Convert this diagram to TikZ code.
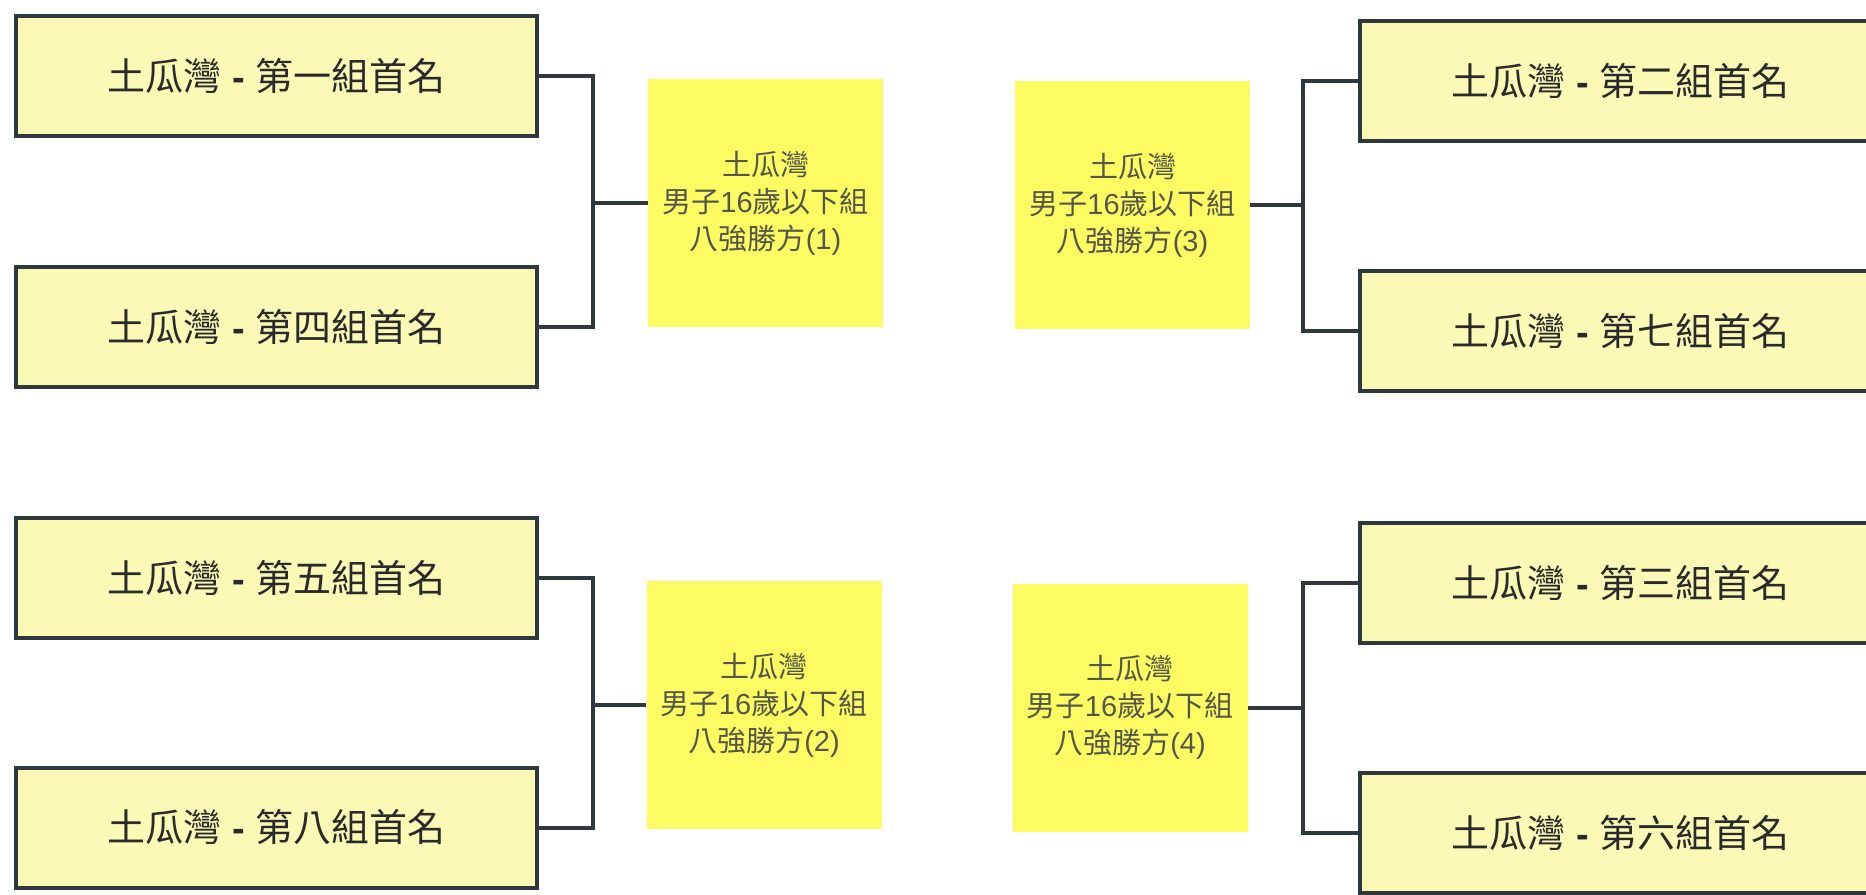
\documentclass[tikz,border=0pt]{standalone}
\usepackage{fontspec}
\setmainfont{Liberation Sans}
\newfontfamily\cjk{Noto Sans CJK TC}
\definecolor{linec}{HTML}{2E383D}
\definecolor{teamfill}{HTML}{FAFAB6}
\definecolor{winfill}{HTML}{FCFC62}
\definecolor{teamtext}{HTML}{2A2A2A}
\definecolor{wintext}{HTML}{55554A}
\newcommand{\teamname}[1]{{\cjk 土瓜灣}\ \textbf{-}\ {\cjk 第#1組首名}}
\newcommand{\winname}[1]{{\cjk 土瓜灣}\\{\cjk 男子}16{\cjk 歲以下組}\\{\cjk 八強勝方}(#1)}
\tikzset{
  team/.style={draw=linec, line width=2pt, fill=teamfill, minimum width=260.5pt,
    minimum height=60pt, inner sep=0pt, text=teamtext,
    font=\fontsize{19}{23}\selectfont},
  winner/.style={fill=winfill, minimum width=117.5pt, minimum height=124pt,
    inner sep=0pt, align=center, text=wintext,
    font=\fontsize{14.5}{18.5}\selectfont},
  conn/.style={draw=linec, line width=2pt}
}
\begin{document}
\begin{tikzpicture}[x=0.5pt,y=-0.5pt]
\useasboundingbox (0,0) rectangle (1866,894);
% left column teams
\node[team] (b1) at (276.5,76) {\teamname{一}};
\node[team] (b4) at (276.5,327) {\teamname{四}};
\node[team] (b5) at (276.5,577.5) {\teamname{五}};
\node[team] (b8) at (276.5,827.5) {\teamname{八}};
% right column teams
\node[team] (b2) at (1620.5,81) {\teamname{二}};
\node[team] (b7) at (1620.5,331) {\teamname{七}};
\node[team] (b3) at (1620.5,583) {\teamname{三}};
\node[team] (b6) at (1620.5,832.5) {\teamname{六}};
% winners
\node[winner] (w1) at (765.5,203) {\winname{1}};
\node[winner] (w2) at (764,705) {\winname{2}};
\node[winner] (w3) at (1132.5,205) {\winname{3}};
\node[winner] (w4) at (1130,707.5) {\winname{4}};
% junctions
\coordinate (j1) at (593,203);
\coordinate (j2) at (593,705);
\coordinate (j3) at (1303,205);
\coordinate (j4) at (1303,707.5);
% connectors
\draw[conn] (b1.east) -| (j1) |- (b4.east);
\draw[conn] (j1) -- (w1.west);
\draw[conn] (b5.east) -| (j2) |- (b8.east);
\draw[conn] (j2) -- (w2.west);
\draw[conn] (b2.west) -| (j3) |- (b7.west);
\draw[conn] (j3) -- (w3.east);
\draw[conn] (b3.west) -| (j4) |- (b6.west);
\draw[conn] (j4) -- (w4.east);
\end{tikzpicture}
\end{document}
